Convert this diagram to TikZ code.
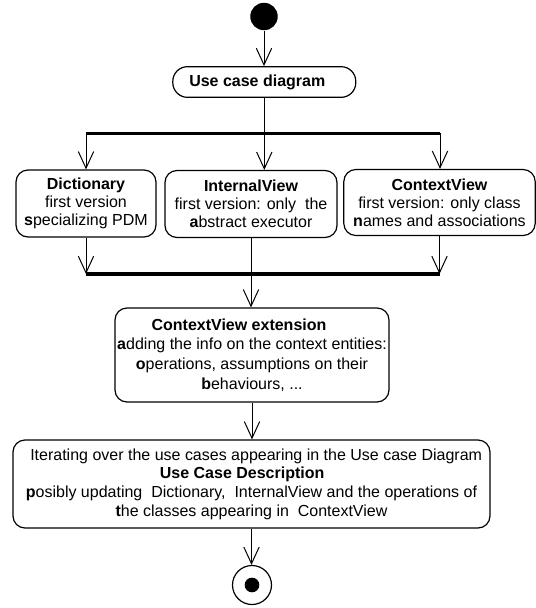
\documentclass[tikz,border=0pt]{standalone}
\usepackage{fontspec}
\setmainfont{Liberation Sans}
\usetikzlibrary{arrows.meta}
\newcommand\padR[1]{\hbox to #1{}}
\begin{document}
\begin{tikzpicture}[x=0.75pt,y=-0.75pt,
  box/.style={draw,line width=0.9pt,rounded corners=9pt,align=center,inner sep=0pt,
    font=\fontsize{12pt}{13.5pt}\selectfont},
  arr/.style={line width=0.75pt,-{Straight Barb[length=12.5pt,width=11.5pt,line width=0.75pt]}},
  ln/.style={line width=0.75pt},
  bar/.style={line width=2.6pt}]
\useasboundingbox (0,0) rectangle (536,608);

% initial node
\node[circle,fill,inner sep=0pt,minimum size=20.6pt] (start) at (264,16.5) {};

% use case diagram
\node[box,rounded corners=11pt,minimum width=137.25pt,minimum height=23pt] (uc) at (264.3,82)
  {\textbf{Use case diagram}\padR{10.5pt}};

% fork bar
\coordinate (forkL) at (86,133.3);
\coordinate (forkR) at (440,133.3);

% three activities
\node[box,minimum width=105pt,minimum height=50.25pt] (dict) at (86,203.5)
  {\textbf{Dictionary}\\first version\\\textbf{s}pecializing PDM};
\node[box,minimum width=129pt,minimum height=50.25pt] (iv) at (251,204)
  {\textbf{InternalView}\\first version: only\ \ the\\\textbf{a}bstract executor};
\node[box,minimum width=143.5pt,minimum height=49.5pt] (ctx) at (439.5,202.5)
  {\textbf{ContextView}\\first version: only class\\\textbf{n}ames and associations};

% join bar
\coordinate (joinL) at (86,274);
\coordinate (joinR) at (440,274);

% extension
\node[box,minimum width=205.5pt,minimum height=70.5pt,
  font=\fontsize{12pt}{14.8pt}\selectfont] (ext) at (252,355)
  {\textbf{ContextView extension}\padR{19.5pt}\\\textbf{a}dding the info on the context entities:\\\textbf{o}perations, assumptions on their\\\textbf{b}ehaviours, ...};

% use case description
\node[box,minimum width=357.75pt,minimum height=66pt,
  font=\fontsize{12pt}{14pt}\selectfont] (ucd) at (251.5,484)
  {\padR{7pt}Iterating over the use cases appearing in the Use case Diagram\\
   \textbf{Use Case Description}\padR{14pt}\\
   \textbf{p}osibly updating\ \ Dictionary,\ \ InternalView and the operations of\\
   \textbf{t}he classes appearing in\ \ ContextView};

% final node
\node[circle,draw,line width=0.9pt,minimum size=29.25pt,inner sep=0pt] (end) at (252,585) {};
\node[circle,fill,minimum size=11pt,inner sep=0pt] (endDot) at (end.center) {};

% connectors
\draw[arr] (start.south) -- (start.south |- uc.north);
\draw[ln] (uc.south) -- (uc.south |- forkL);
\draw[bar] (forkL) -- (forkR);
\draw[arr] (forkL) -- (forkL |- dict.north);
\draw[arr] (uc.south |- forkL) -- (uc.south |- iv.north);
\draw[arr] (forkR) -- (forkR |- ctx.north);

\draw[arr] (dict.south) -- (dict.south |- joinL);
\draw[arr] (ctx.south) -- (ctx.south |- joinR);
\draw[bar] (joinL) -- (joinR);
\draw[arr] (iv.south) -- (iv.south |- ext.north);

\draw[arr] (ext.south) -- (ext.south |- ucd.north);
\draw[arr] (ucd.south) -- (ucd.south |- end.north);
\end{tikzpicture}
\end{document}
